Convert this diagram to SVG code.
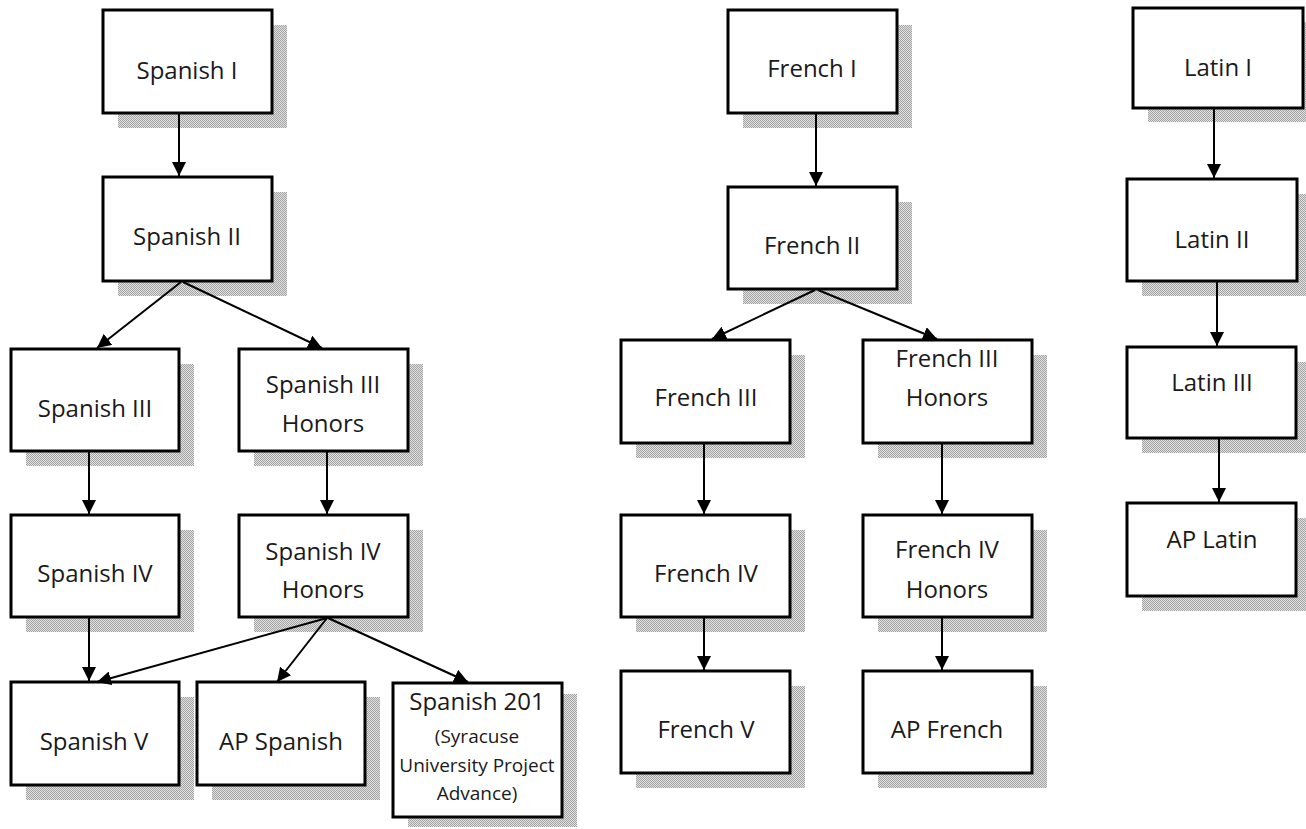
<svg xmlns="http://www.w3.org/2000/svg" width="1306" height="829" viewBox="0 0 1306 829">
<style>
.sh{fill:url(#stip)}
.bx{fill:#fff;stroke:#000;stroke-width:3}
.t{font-family:"Open Sans","Noto Sans","DejaVu Sans",sans-serif;font-size:24px;fill:#1a1a1a;text-anchor:middle}
.s{font-size:19px}
.c{fill:none;stroke:#000;stroke-width:2;marker-end:url(#ah)}
</style>
<defs>
<pattern id="stip" width="2" height="2" patternUnits="userSpaceOnUse">
<rect width="2" height="2" fill="#e2e2e2"/>
<rect width="1" height="1" fill="#a2a2a2"/>
<rect x="1" y="1" width="1" height="1" fill="#a2a2a2"/>
</pattern>
<marker id="ah" viewBox="0 0 10 10" refX="10" refY="5" markerWidth="7" markerHeight="7" markerUnits="strokeWidth" orient="auto">
<path d="M0,0 L10,5 L0,10 z" fill="#000"/>
</marker>
</defs>
<rect width="1306" height="829" fill="#fff"/>

<g id="spanish1"><rect class="sh" x="118" y="25" width="169" height="103"/><rect class="bx" x="103" y="10" width="169" height="103"/><text class="t" x="187" y="79">Spanish I</text></g>
<g id="spanish2"><rect class="sh" x="118" y="192" width="169" height="104"/><rect class="bx" x="103" y="177" width="169" height="104"/><text class="t" x="187" y="245">Spanish II</text></g>
<g id="spanish3"><rect class="sh" x="26" y="364" width="168" height="102"/><rect class="bx" x="11" y="349" width="168" height="102"/><text class="t" x="95" y="417">Spanish III</text></g>
<g id="spanish3h"><rect class="sh" x="254" y="364" width="169" height="102"/><rect class="bx" x="239" y="349" width="169" height="102"/><text class="t" x="323" y="393">Spanish III</text><text class="t" x="323" y="432">Honors</text></g>
<g id="spanish4"><rect class="sh" x="26" y="530" width="168" height="102"/><rect class="bx" x="11" y="515" width="168" height="102"/><text class="t" x="95" y="582">Spanish IV</text></g>
<g id="spanish4h"><rect class="sh" x="254" y="530" width="169" height="102"/><rect class="bx" x="239" y="515" width="169" height="102"/><text class="t" x="323" y="560">Spanish IV</text><text class="t" x="323" y="598">Honors</text></g>
<g id="spanish5"><rect class="sh" x="26" y="697" width="168" height="103"/><rect class="bx" x="11" y="682" width="168" height="103"/><text class="t" x="94" y="750">Spanish V</text></g>
<g id="apspanish"><rect class="sh" x="212" y="697" width="168" height="103"/><rect class="bx" x="197" y="682" width="168" height="103"/><text class="t" x="281" y="750">AP Spanish</text></g>
<g id="spanish201"><rect class="sh" x="408" y="694" width="169" height="133"/><rect class="bx" x="393" y="683" width="169" height="134"/><text class="t" x="477" y="710">Spanish 201</text><text class="t s" x="477" y="743">(Syracuse</text><text class="t s" x="477" y="772">University Project</text><text class="t s" x="477" y="800">Advance)</text></g>

<g id="french1"><rect class="sh" x="743" y="25" width="169" height="103"/><rect class="bx" x="728" y="10" width="169" height="103"/><text class="t" x="812" y="77">French I</text></g>
<g id="french2"><rect class="sh" x="743" y="202" width="169" height="102"/><rect class="bx" x="728" y="187" width="169" height="102"/><text class="t" x="812" y="254">French II</text></g>
<g id="french3"><rect class="sh" x="636" y="355" width="169" height="103"/><rect class="bx" x="621" y="340" width="169" height="103"/><text class="t" x="706" y="406">French III</text></g>
<g id="french3h"><rect class="sh" x="878" y="355" width="169" height="103"/><rect class="bx" x="863" y="340" width="169" height="103"/><text class="t" x="947" y="367">French III</text><text class="t" x="947" y="406">Honors</text></g>
<g id="french4"><rect class="sh" x="636" y="530" width="169" height="102"/><rect class="bx" x="621" y="515" width="169" height="102"/><text class="t" x="706" y="582">French IV</text></g>
<g id="french4h"><rect class="sh" x="878" y="530" width="169" height="102"/><rect class="bx" x="863" y="515" width="169" height="102"/><text class="t" x="947" y="558">French IV</text><text class="t" x="947" y="598">Honors</text></g>
<g id="french5"><rect class="sh" x="636" y="686" width="169" height="102"/><rect class="bx" x="621" y="671" width="169" height="102"/><text class="t" x="706" y="738">French V</text></g>
<g id="apfrench"><rect class="sh" x="878" y="686" width="169" height="102"/><rect class="bx" x="863" y="671" width="169" height="102"/><text class="t" x="947" y="738">AP French</text></g>

<g id="latin1"><rect class="sh" x="1148" y="22" width="170" height="100"/><rect class="bx" x="1133" y="8" width="170" height="100"/><text class="t" x="1218" y="76">Latin I</text></g>
<g id="latin2"><rect class="sh" x="1142" y="194" width="170" height="102"/><rect class="bx" x="1127" y="179" width="170" height="102"/><text class="t" x="1212" y="248">Latin II</text></g>
<g id="latin3"><rect class="sh" x="1142" y="362" width="169" height="91"/><rect class="bx" x="1127" y="347" width="169" height="91"/><text class="t" x="1212" y="391">Latin III</text></g>
<g id="aplatin"><rect class="sh" x="1142" y="518" width="169" height="93"/><rect class="bx" x="1127" y="503" width="169" height="93"/><text class="t" x="1212" y="548">AP Latin</text></g>

<g id="connectors">
<line class="c" x1="179" y1="114" x2="179" y2="176"/>
<line class="c" x1="181" y1="282" x2="97" y2="348"/>
<line class="c" x1="183" y1="282" x2="322" y2="348"/>
<line class="c" x1="89" y1="452" x2="89" y2="514"/>
<line class="c" x1="327" y1="452" x2="327" y2="514"/>
<line class="c" x1="89" y1="618" x2="89" y2="681"/>
<line class="c" x1="327" y1="618" x2="97" y2="682"/>
<line class="c" x1="327" y1="618" x2="277" y2="682"/>
<line class="c" x1="328" y1="618" x2="468" y2="682"/>
<line class="c" x1="816" y1="114" x2="816" y2="186"/>
<line class="c" x1="815" y1="290" x2="712" y2="339"/>
<line class="c" x1="818" y1="290" x2="937" y2="339"/>
<line class="c" x1="704" y1="444" x2="704" y2="514"/>
<line class="c" x1="942" y1="444" x2="942" y2="514"/>
<line class="c" x1="704" y1="618" x2="704" y2="670"/>
<line class="c" x1="942" y1="618" x2="942" y2="670"/>
<line class="c" x1="1214" y1="109" x2="1214" y2="178"/>
<line class="c" x1="1217" y1="282" x2="1217" y2="346"/>
<line class="c" x1="1219" y1="439" x2="1219" y2="502"/>
</g>
</svg>
